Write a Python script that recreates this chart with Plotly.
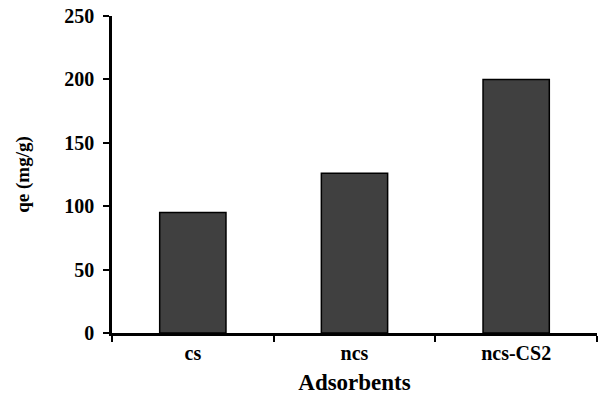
import plotly.graph_objects as go

categories = ["cs", "ncs", "ncs-CS2"]
qe_values = [95, 126, 200]
y_ticks = [0, 50, 100, 150, 200, 250]

fig = go.Figure(go.Bar(
    x=categories, y=qe_values,
    marker=dict(color="#404040", line=dict(color="black", width=1.5)),
))

font_family = "Liberation Serif"
fig.update_layout(
    width=599, height=403,
    margin=dict(l=112, r=2, t=16, b=70),
    plot_bgcolor="white", paper_bgcolor="white",
    bargap=0.59,
    showlegend=False,
    font=dict(family=font_family, color="black"),
)
fig.update_xaxes(
    type="category", tickson="boundaries",
    showline=True, linecolor="black", linewidth=2.5,
    ticks="outside", ticklen=6, tickwidth=2, tickcolor="black",
    tickfont=dict(size=20, family=font_family, weight="bold"),
    title=dict(text="<b>Adsorbents</b>", font=dict(size=23, family=font_family), standoff=12),
    showgrid=False, zeroline=False,
)
fig.update_yaxes(
    range=[0, 250], tickvals=y_ticks,
    showline=True, linecolor="black", linewidth=2.5,
    ticks="outside", ticklen=6, tickwidth=2, tickcolor="black",
    ticklabelstandoff=5,
    tickfont=dict(size=20, family=font_family, weight="bold"),
    title=dict(text="<b>qe (mg/g)</b>", font=dict(size=19, family=font_family), standoff=30),
    showgrid=False, zeroline=False,
)

fig.write_html("out.html", config={"displayModeBar": False},
               post_script="document.body.style.margin='0px';")
